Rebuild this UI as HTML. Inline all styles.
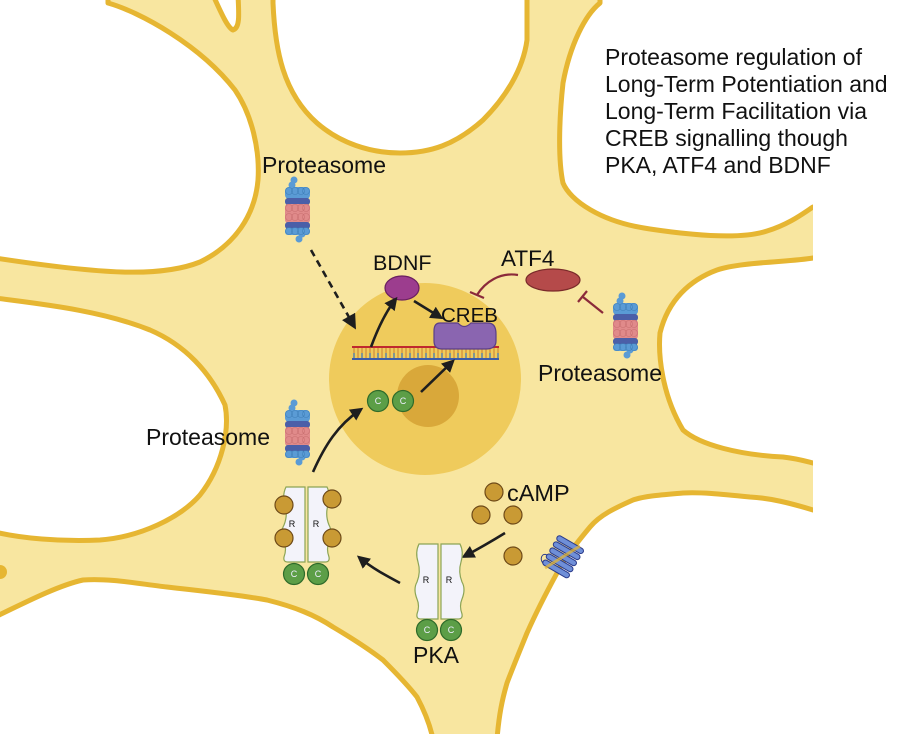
<!DOCTYPE html>
<html><head><meta charset="utf-8"><style>
html,body{margin:0;padding:0;background:#fff;}
svg{display:block;}
text{font-family:"Liberation Sans",sans-serif;fill:#111;}
</style></head><body>
<svg width="900" height="734" viewBox="0 0 900 734" xmlns="http://www.w3.org/2000/svg">
<defs>
<marker id="ah" markerWidth="13" markerHeight="13" refX="9" refY="6.5" orient="auto" markerUnits="userSpaceOnUse">
<path d="M0,0 L13,6.5 L0,13 Z" fill="#1e1e1e"/>
</marker>
<marker id="ahb" markerWidth="15" markerHeight="15" refX="11" refY="7.5" orient="auto" markerUnits="userSpaceOnUse">
<path d="M0,0 L15,7.5 L0,15 Z" fill="#1e1e1e"/>
</marker>
<g id="prot">
<circle cx="9" cy="3" r="3.5" fill="#5a9bd5"/>
<circle cx="7" cy="8" r="3.5" fill="#5a9bd5"/>
<rect x="0" y="10" width="25" height="12" rx="4" fill="#5a9bd5"/>
<rect x="0" y="21" width="25" height="7" rx="3" fill="#4b5fa8"/>
<rect x="0" y="27" width="25" height="19" rx="3" fill="#e08a8a"/>
<rect x="0" y="45" width="25" height="7" rx="3" fill="#4b5fa8"/>
<rect x="0" y="51" width="25" height="7" rx="3" fill="#5a9bd5"/>
<circle cx="17" cy="57" r="3.5" fill="#5a9bd5"/>
<circle cx="14" cy="62" r="3.5" fill="#5a9bd5"/>
<g fill="none" stroke="#3f7fb8" stroke-width="0.6">
<circle cx="4" cy="14" r="3.5"/><circle cx="10" cy="14" r="3.5"/><circle cx="16" cy="14" r="3.5"/><circle cx="21" cy="14" r="3.5"/>
<circle cx="4" cy="54" r="3.5"/><circle cx="10" cy="54" r="3.5"/><circle cx="16" cy="54" r="3.5"/><circle cx="21" cy="54" r="3.5"/>
</g>
<g fill="none" stroke="#c86f70" stroke-width="0.6">
<circle cx="4" cy="31" r="3.5"/><circle cx="10" cy="31" r="3.5"/><circle cx="16" cy="31" r="3.5"/><circle cx="21" cy="31" r="3.5"/>
<circle cx="4" cy="40" r="3.5"/><circle cx="10" cy="40" r="3.5"/><circle cx="16" cy="40" r="3.5"/><circle cx="21" cy="40" r="3.5"/>
</g>
</g>
<g id="rpanelL">
<path d="M3,0 H22 V75 H5 Q0,75 1,70 Q4,62 1,55 Q-3,45 1,38 Q5,28 2,18 Q-1,8 3,0 Z" fill="#f3f3fa" stroke="#8ca455" stroke-width="1.2"/>
</g>
<g id="rpanelR">
<path d="M0,0 H19 Q23,8 20,18 Q17,28 21,38 Q25,45 21,55 Q18,62 21,70 Q22,75 17,75 H0 Z" fill="#f3f3fa" stroke="#8ca455" stroke-width="1.2"/>
</g>
</defs>

<rect width="900" height="734" fill="#fff"/>
<path fill="#f8e6a0" d="M0,0 H900 V734 H0 Z"/>
<g fill="#fff" stroke="#e6b632" stroke-width="5" stroke-linejoin="round">
<path d="M-5,-5 L108,-5 L108,3 C140,12 200,45 235,90 C252,115 260,150 258,180 C255,215 235,245 200,262 C160,278 100,274 -5,258 Z"/>
<path d="M213,-5 C222,15 228,28 233,30 C240,28 239,15 238,-5 Z"/>
<path d="M273,-5 L273,3 C275,50 283,93 317,123 C340,143 370,153 400,153 C430,153 455,145 483,120 C505,98 523,70 527,40 L527,-5 Z"/>
<path d="M600,-5 L600,3 C585,15 570,45 563,83 C559,120 558,160 563,183 C570,200 600,222 650,229 C690,235 740,240 767,231 C790,224 805,212 813,207 L905,207 L905,-5 Z"/>
<path d="M-5,298 C40,304 100,310 150,330 C185,345 210,372 225,405 C230,430 222,467 200,495 C180,518 140,537 100,540 C60,542 20,538 -5,532 Z"/>
<path d="M905,258 L813,258 C790,262 740,262 717,270 C690,280 668,300 660,333 C658,355 662,395 683,430 C700,445 740,455 783,457 C800,459 808,462 813,463 L905,463 Z"/>
<path d="M905,510 L813,510 C790,503 770,498 750,497 C720,494 700,492 683,493 C660,495 645,496 633,500 C615,508 600,515 590,527 C575,545 565,558 557,573 C545,595 535,615 527,633 C518,655 510,675 507,683 C502,700 499,715 497,739 L905,739 Z"/>
<path d="M-5,617 C30,600 60,585 83,580 C110,578 140,584 167,587 C210,592 240,595 267,600 C295,607 315,615 333,627 C355,640 370,650 383,660 C398,675 410,688 417,697 C425,712 430,725 433,739 L-5,739 Z"/>
</g>
<rect x="813" y="0" width="90" height="734" fill="#fff"/>
<path d="M0,565 A7,7 0 0 1 0,579 Z" fill="#e6b632"/>

<circle cx="425" cy="379" r="96" fill="#efcb5c"/>
<circle cx="428" cy="396" r="31" fill="#d9a83a"/>

<g>
<line x1="352" y1="347" x2="499" y2="347" stroke="#c0282f" stroke-width="2"/>
<line x1="352" y1="359" x2="499" y2="359" stroke="#3b5ba8" stroke-width="2"/>
<g stroke-width="1.2">
<path d="M354,348V358M358,348V358M362,348V358M366,348V358M370,348V358M374,348V358M378,348V358M382,348V358M386,348V358M390,348V358M394,348V358M398,348V358M402,348V358M406,348V358M410,348V358M414,348V358M418,348V358M422,348V358M426,348V358M430,348V358M434,348V358M438,348V358M442,348V358M446,348V358M450,348V358M454,348V358M458,348V358M462,348V358M466,348V358M470,348V358M474,348V358M478,348V358M482,348V358M486,348V358M490,348V358M494,348V358M498,348V358" stroke="#d08a3a"/>
<path d="M354,353V358M362,353V358M370,353V358M378,353V358M386,353V358M394,353V358M402,353V358M410,353V358M418,353V358M426,353V358M434,353V358M442,353V358M450,353V358M458,353V358M466,353V358M474,353V358M482,353V358M490,353V358M498,353V358" stroke="#3b7bbf"/>
</g>
</g>

<path d="M440,323 H458 Q464,330 471,323 H488 Q496,323 496,334 V341 Q496,349 486,349 H442 Q434,349 434,341 V331 Q434,323 440,323 Z" fill="#8a65b0" stroke="#5a3f88" stroke-width="1.2"/>
<text x="441" y="322" font-size="20.5">CREB</text>

<ellipse cx="402" cy="288" rx="17" ry="12" fill="#9c3d8e" stroke="#6a2060" stroke-width="1.2"/>
<text x="373" y="270" font-size="21.5">BDNF</text>

<ellipse cx="553" cy="280" rx="27" ry="11" fill="#b54a4a" stroke="#7a2a2a" stroke-width="1.2"/>
<text x="501" y="266" font-size="22.5">ATF4</text>
<g stroke="#8b2a3a" stroke-width="2.2" fill="none">
<path d="M518,275 C500,272 485,282 477,295"/>
<line x1="470" y1="292" x2="484" y2="298"/>
<line x1="603" y1="313" x2="583" y2="297"/>
<line x1="578" y1="302" x2="587" y2="291"/>
</g>

<g stroke="#1e1e1e" stroke-width="2.6" fill="none">
<path d="M311,250 L354,326" stroke-dasharray="7,5" marker-end="url(#ahb)"/>
<path d="M371,347 C378,328 385,313 395,300" marker-end="url(#ah)"/>
<path d="M414,301 L440,317" marker-end="url(#ah)"/>
<path d="M421,392 L452,362" marker-end="url(#ah)"/>
<path d="M313,472 C325,445 338,425 360,410" marker-end="url(#ah)"/>
<path d="M400,583 C385,575 372,568 360,558" marker-end="url(#ah)"/>
<path d="M505,533 C492,541 480,548 465,556" marker-end="url(#ah)"/>
</g>

<g stroke="#2f6b2a" stroke-width="1.2" fill="#5c9e47">
<circle cx="378" cy="401" r="10.5"/><circle cx="403" cy="401" r="10.5"/>
</g>
<text x="378" y="404" font-size="9" text-anchor="middle" style="fill:#eef">C</text>
<text x="403" y="404" font-size="9" text-anchor="middle" style="fill:#eef">C</text>

<use href="#prot" x="285" y="177"/>
<use href="#prot" x="285" y="400"/>
<use href="#prot" x="613" y="293"/>
<text x="262" y="173" font-size="23">Proteasome</text>
<text x="146" y="445" font-size="23">Proteasome</text>
<text x="538" y="381" font-size="23">Proteasome</text>

<use href="#rpanelL" x="283" y="487"/>
<use href="#rpanelR" x="308" y="487"/>
<text x="292" y="527" font-size="9" text-anchor="middle">R</text>
<text x="316" y="527" font-size="9" text-anchor="middle">R</text>
<g fill="#c99a34" stroke="#6e4a18" stroke-width="1.2">
<circle cx="284" cy="505" r="9"/><circle cx="284" cy="538" r="9"/>
<circle cx="332" cy="499" r="9"/><circle cx="332" cy="538" r="9"/>
</g>
<g stroke="#2f6b2a" stroke-width="1.2" fill="#5c9e47">
<circle cx="294" cy="574" r="10.5"/><circle cx="318" cy="574" r="10.5"/>
</g>
<text x="294" y="577" font-size="9" text-anchor="middle" style="fill:#eef">C</text>
<text x="318" y="577" font-size="9" text-anchor="middle" style="fill:#eef">C</text>

<use href="#rpanelL" x="416" y="544"/>
<use href="#rpanelR" x="441" y="544"/>
<text x="426" y="583" font-size="9" text-anchor="middle">R</text>
<text x="449" y="583" font-size="9" text-anchor="middle">R</text>
<g stroke="#2f6b2a" stroke-width="1.2" fill="#5c9e47">
<circle cx="427" cy="630" r="10.5"/><circle cx="451" cy="630" r="10.5"/>
</g>
<text x="427" y="633" font-size="9" text-anchor="middle" style="fill:#eef">C</text>
<text x="451" y="633" font-size="9" text-anchor="middle" style="fill:#eef">C</text>
<text x="413" y="663" font-size="23">PKA</text>

<g fill="#c99a34" stroke="#6e4a18" stroke-width="1.2">
<circle cx="494" cy="492" r="9"/><circle cx="481" cy="515" r="9"/>
<circle cx="513" cy="515" r="9"/><circle cx="513" cy="556" r="9"/>
</g>
<text x="507" y="501" font-size="23.5">cAMP</text>

<!-- receptor -->
<path d="M545,565 C538,560 542,552 547,555" fill="none" stroke="#2a3a8a" stroke-width="1"/>
<g transform="translate(563,557) rotate(-58)">
<g transform="skewX(0)">
<g fill="#6f8fd8" stroke="#2a3a8a" stroke-width="1">
<g transform="rotate(88)">
<rect x="-15" y="-17" width="30" height="5.5" rx="2.75"/>
<rect x="-15" y="-10" width="30" height="5.5" rx="2.75"/>
<rect x="-15" y="-3" width="30" height="5.5" rx="2.75"/>
<rect x="-15" y="4" width="30" height="5.5" rx="2.75"/>
<rect x="-15" y="11" width="30" height="5.5" rx="2.75"/>
</g>
</g>
</g>
</g>
<line x1="545" y1="568" x2="580" y2="546" stroke="#e8b830" stroke-width="3" opacity="0.7"/>

<g font-size="23">
<text x="605" y="65">Proteasome regulation of</text>
<text x="605" y="92">Long-Term Potentiation and</text>
<text x="605" y="119">Long-Term Facilitation via</text>
<text x="605" y="146">CREB signalling though</text>
<text x="605" y="173">PKA, ATF4 and BDNF</text>
</g>
</svg>
</body></html>
